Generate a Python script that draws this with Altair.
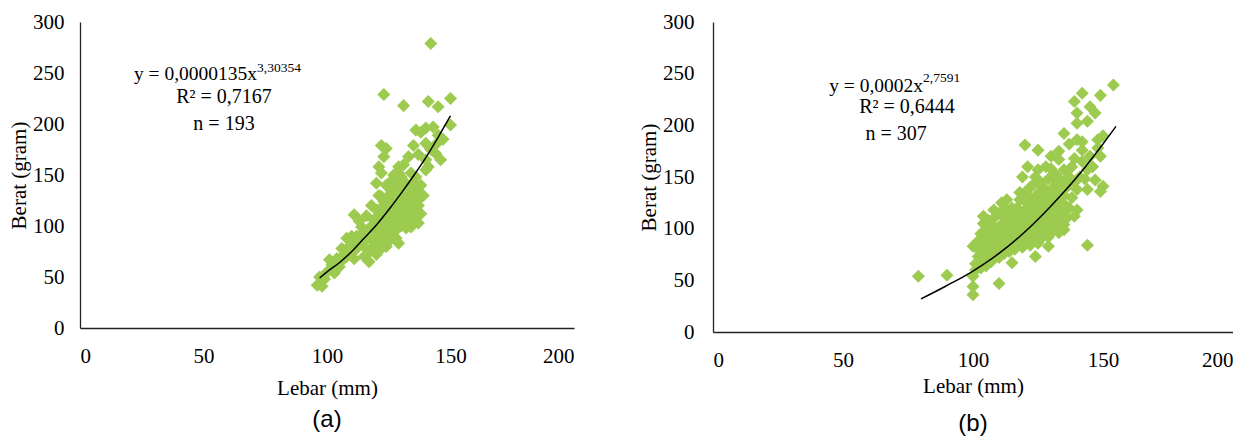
import altair as alt
import pandas as pd

# ---------------- data ----------------
# Panel (a): Lebar (mm) vs Berat (gram), n = 193
a_x = [142,123,131,141,145,150,150,136,140,143,145,138,140,135,122,124,123,133,144,121,129,141,146,137,
       122,129,134,140,120,125,130,136,122,129,135,138,111,120,125,134,134,137,114,120,129,124,110,109,115,118,105,101,97,96,98,103,
       100,99,102,104,106,107,108,110,110,111,112,112,113,114,115,116,116,117,118,118,119,119,120,120,121,121,122,122,122,
       123,123,123,124,124,124,125,125,125,126,126,126,126,127,127,127,127,128,128,128,128,129,129,129,130,130,130,130,
       131,131,131,132,132,132,132,133,133,133,133,134,134,135,135,135,136,136,137,138,138,139,140,142,144,147,131,127,
       124,121,118,116,113,108,106,104,120,122,125,128,117]
a_y = [279,229,218,222,217,225,199,194,196,197,189,192,181,179,179,176,168,168,171,158,158,158,165,170,
       152,152,152,155,142,142,138,135,129,125,122,128,111,116,113,109,99,103,99,96,83,80,90,80,70,77,60,67,50,42,41,54,
       55,48,62,58,66,72,70,75,84,68,78,90,85,92,80,88,95,74,86,100,90,106,82,104,95,110,88,100,118,
       94,108,124,85,102,115,98,121,130,92,106,118,135,100,112,126,145,96,108,120,132,104,115,140,100,112,125,148,
       106,118,130,98,112,122,142,105,116,128,138,118,130,110,125,142,116,148,120,112,140,130,165,175,180,185,160,150,
       140,130,120,110,105,88,78,68,72,78,85,88,65]

# Panel (b): n = 307
b_x = [154,149,142,139,145,147,140,144,140,135,140,142,148,149,120,125,133,142,133,139,121,125,130,135,119,144,147,150,149,144,
       140,144,135,136,123,133,79,90,110,100,100,100,100,104,104,111,115,113,102,106,124,129,115,
       101,101,102,102,103,103,103,104,104,105,105,105,106,106,107,107,107,108,108,108,109,109,109,110,110,110,110,
       111,111,111,112,112,112,112,113,113,113,114,114,114,114,115,115,115,116,116,116,116,117,117,117,117,
       118,118,118,118,119,119,119,119,120,120,120,120,120,121,121,121,121,122,122,122,122,122,123,123,123,123,
       124,124,124,124,124,125,125,125,125,125,126,126,126,126,126,127,127,127,127,128,128,128,128,128,
       129,129,129,129,129,130,130,130,130,130,131,131,131,131,132,132,132,132,133,133,133,133,134,134,134,
       135,135,135,136,136,137,137,138,138,139,139,140,141,142,143,145,146,148,150,137,131,127,122,118,113,108,106]
b_y = [239,229,231,223,218,212,212,204,202,192,186,184,186,170,181,176,175,176,167,168,160,157,158,157,150,157,147,141,136,138,
       118,84,99,121,142,142,54,55,47,36,44,54,83,105,112,125,120,105,73,70,73,83,67,
       60,66,80,88,62,70,95,76,84,64,72,90,80,98,68,86,104,74,92,110,78,84,100,72,88,95,115,
       80,92,104,76,86,98,112,82,90,118,78,94,100,110,86,96,105,80,90,100,112,84,94,104,120,
       88,98,108,128,82,92,102,114,86,96,106,118,135,90,100,110,124,84,94,104,116,130,88,98,108,120,
       92,102,112,126,150,86,96,106,118,134,90,100,110,122,145,94,104,114,128,98,108,120,136,160,
       92,102,112,126,148,96,106,118,132,170,100,112,124,140,104,116,130,152,96,108,122,136,112,126,146,
       104,118,132,110,140,120,150,130,160,112,145,138,150,165,148,170,160,178,190,182,148,140,140,135,128,118,108]

# fitted power curves
a_curve_x = [97, 100, 105, 110, 115, 120, 125, 130, 135, 140, 145, 150]
a_curve_y = [49, 55, 64, 75, 88, 101, 116, 132, 149, 167, 187, 208]
b_curve_x = [80, 90, 100, 110, 120, 130, 140, 150, 155]
b_curve_y = [32, 45, 59, 76, 97, 122, 150, 182, 199]

# annotation text
a_eq_main, a_eq_exp = "y = 0,0000135x", "3,30354"
a_lines = ["R\u00b2 = 0,7167", "n = 193"]
b_eq_main, b_eq_exp = "y = 0,0002x", "2,7591"
b_lines = ["R\u00b2 = 0,6444", "n = 307"]

# ---------------- styling ----------------
GREEN = "#9CCB4F"
SERIF = "Liberation Serif"

def panel(px, py, cx, cy, eq_main, eq_exp, lines, eq_pos, line_pos, w, h, label, ylabpad, xtitlepad, toff):
    pts = pd.DataFrame({"x": px, "y": py})
    crv = pd.DataFrame({"x": cx, "y": cy})
    xs = alt.Scale(domain=[0, 200], nice=False, zero=False)
    ys = alt.Scale(domain=[0, 300], nice=False, zero=False)
    common = dict(grid=False, ticks=False, domainColor="#222", domainWidth=1.3,
                  labelFont=SERIF, labelFontSize=21, labelColor="black",
                  titleFont=SERIF, titleFontSize=21, titleFontWeight="normal", titleColor="black")
    xa = alt.Axis(values=[0, 50, 100, 150, 200], title="Lebar (mm)",
                  labelPadding=17, titlePadding=xtitlepad, **common)
    ya = alt.Axis(values=[0, 50, 100, 150, 200, 250, 300], title="Berat (gram)",
                  labelPadding=ylabpad, titlePadding=3, **common)

    def enc(**kw):
        return dict(x=alt.X("x:Q", scale=xs, axis=xa), y=alt.Y("y:Q", scale=ys, axis=ya), **kw)

    scatter = alt.Chart(pts).mark_point(shape="diamond", filled=True, size=170, color=GREEN,
                                        opacity=1).encode(**enc())
    line = alt.Chart(crv).mark_line(color="black", strokeWidth=1.5, interpolate="monotone").encode(**enc())

    ex, ey, sx, sy = eq_pos
    eqm = alt.Chart(pd.DataFrame({"x": [ex], "y": [ey], "t": [eq_main]})).mark_text(
        align="right", baseline="alphabetic", font=SERIF, fontSize=19.5, color="black").encode(**enc(text="t:N"))
    eqe = alt.Chart(pd.DataFrame({"x": [sx], "y": [sy], "t": [eq_exp]})).mark_text(
        align="left", baseline="alphabetic", font=SERIF, fontSize=13.5, color="black").encode(**enc(text="t:N"))
    lx, ly = line_pos
    ln = alt.Chart(pd.DataFrame({"x": lx, "y": ly, "t": lines})).mark_text(
        align="center", baseline="alphabetic", font=SERIF, fontSize=20, color="black").encode(**enc(text="t:N"))

    return alt.layer(scatter, line, eqm, eqe, ln).properties(
        width=w, height=h,
        title=alt.TitleParams(text=label, orient="bottom", font="Liberation Sans", fontSize=24,
                              fontWeight="normal", color="black", offset=toff, anchor="middle"))

left = panel(a_x, a_y, a_curve_x, a_curve_y, a_eq_main, a_eq_exp, a_lines,
             (71.7, 243, 71.7, 251), ([58.3, 58.3], [220.6, 194]), 494, 306, "(a)", 16, 11, 10)
right = panel(b_x, b_y, b_curve_x, b_curve_y, b_eq_main, b_eq_exp, b_lines,
              (80.8, 232.3, 80.8, 242), ([74.6, 70.4], [212, 186]), 520, 310, "(b)", 19, 5, 16)

chart = alt.hconcat(left, right, spacing=64).properties(
    padding={"left": 0, "top": 3, "right": 0, "bottom": 0},
    background="white"
).configure_view(stroke=None)

chart.save("out.html", embed_options={"renderer": "svg", "actions": False})
